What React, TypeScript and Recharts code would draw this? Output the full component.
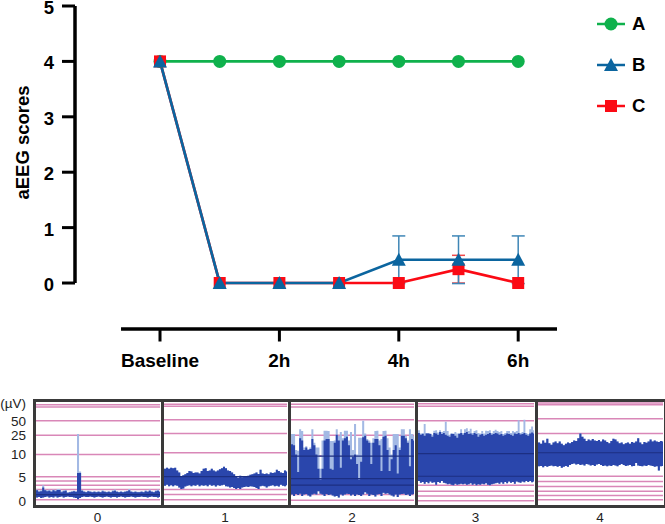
import { CartesianGrid, ComposedChart, Area, ErrorBar, Line, LineChart, ReferenceLine, XAxis, YAxis } from 'recharts';

const FONT = '"Liberation Sans", Arial, sans-serif';

// upper chart
const TIME_POINTS = [0, 1, 2, 3, 4, 5, 6];
const TIME_TICKS = [0, 2, 4, 6];
const TIME_LABELS = ['Baseline', '2h', '4h', '6h'];
const SCORE_TICKS = [0, 1, 2, 3, 4, 5];
const SCORES_A = [4, 4, 4, 4, 4, 4, 4];
const SCORES_B = [4, 0, 0, 0, 0.42, 0.42, 0.42];
const SCORES_C = [4, 0, 0, 0, 0, 0.25, 0];
const ERRORS_B = [null, null, null, null, 0.43, 0.43, 0.43];
const ERRORS_C = [null, null, null, null, null, 0.25, null];

const GREEN = '#0fb14c';
const BLUE = '#0b659f';
const RED = '#fb0a14';

const scoreRows = TIME_POINTS.map((t, i) => ({
  t,
  a: SCORES_A[i],
  b: SCORES_B[i],
  c: SCORES_C[i],
  errB: ERRORS_B[i],
  errC: ERRORS_C[i],
}));

// aEEG strips, amplitude in plotted levels (0-10 linear, log above)
const AMP_TICKS = [0, 5.1, 10, 14.1, 17.2, 21];
const AMP_LABELS = ['0', '5', '10', '25', '50', '(µV)'];

const GRID_0 = [0.4, 1.5, 2.6, 3.5, 4.4, 5.3, 10, 14.1, 17.2, 20.1, 20.6];
const GRID_1 = [0.4, 1.5, 2.6, 10.4, 14.5, 17.4, 20.3, 20.7];
const GRID_2 = [0.3, 1.5, 9.7, 14.1, 17.4, 20.1, 20.7];
const GRID_3 = [0.2, 1.2, 2.2, 3.5, 17.2, 20.3, 20.8];
const GRID_4 = [0.4, 1.3, 2.2, 3.2, 4.3, 5.4, 14.5, 17.6, 20.6, 21];

const MID_0 = [1.5];
const MID_1 = [5.3];
const MID_2 = [3.5, 4.9, 9.7];
const MID_3 = [5.4, 10.2];
const MID_4 = [10.4];

const HIGH_0 = [2.3, 2.4, 2.1, 2.2, 3, 2.4, 2.2, 2.3, 2.1, 2.4, 2.2, 2.5, 2.5, 2, 2.2, 2.3, 1.9, 2, 2.1, 2.2, 2.1, 6.1, 6.1, 2.3, 2.1, 2, 2.2, 2.1, 2, 2.1, 2, 2.1, 2, 2.2, 2.1, 2, 2.1, 2, 2.2, 2.3, 2.1, 2, 2.1, 2, 2.1, 2.2, 2.4, 2.1, 2, 2.1, 2, 2, 2.1, 2, 2.2, 2.1, 2.3, 2.1, 2, 2.2, 2.3, 2.1];
const TIP_0 = [2.6, 2.6, 2.3, 2.4, 3.5, 2.6, 2.4, 2.6, 2.3, 2.6, 2.4, 2.7, 2.7, 2.2, 2.4, 2.5, 2, 2.1, 2.2, 2.3, 2.2, 14.4, 6.4, 2.5, 2.2, 2.1, 2.3, 2.2, 2.1, 2.2, 2.1, 2.2, 2.1, 2.4, 2.2, 2.1, 2.2, 2.1, 2.4, 2.6, 2.2, 2.1, 2.2, 2.1, 2.2, 2.3, 2.7, 2.2, 2.1, 2.2, 2.1, 2.1, 2.2, 2.1, 2.4, 2.2, 2.6, 2.2, 2.1, 2.4, 2.6, 2.2];
const LOW_0 = [1.1, 0.9, 1, 0.8, 0.9, 1, 1.1, 0.9, 1, 0.9, 1.1, 0.9, 1, 1.1, 0.9, 1, 1.1, 1, 1, 0.9, 0.8, 0.5, 0.8, 1, 1.1, 1, 1, 1.1, 1, 0.9, 1, 1.1, 1, 0.9, 1, 1.1, 1, 0.9, 1, 1, 0.9, 1, 1.1, 1, 0.9, 1, 1, 1.1, 1, 0.9, 1, 1, 1.1, 1, 1, 0.9, 1, 1.1, 1, 1, 0.9, 1];

const HIGH_1 = [6.8, 7, 7.2, 7, 7.2, 7.1, 7.2, 6.6, 6.2, 5.4, 5.6, 5.8, 6.1, 6.5, 6.4, 6.1, 6.2, 6.2, 6, 6.5, 7, 7.1, 6.5, 6.6, 7, 6.6, 6.4, 6.6, 6.9, 7.1, 7.4, 7.1, 6.6, 6.5, 6.2, 5.8, 5.4, 5.1, 5.5, 5.2, 5.3, 5.4, 5.5, 5.7, 5.8, 6, 6.2, 5.9, 6.8, 6, 5.9, 6, 5.8, 6.2, 6.1, 6.2, 6.8, 6.5, 6.2, 6.1, 6.6, 6.4];
const LOW_1 = [3.6, 3.4, 3.6, 3.3, 3.5, 3.3, 3.5, 3.4, 3, 2.7, 2.8, 3.2, 3.4, 3.5, 3.3, 3.5, 3.4, 3.6, 3.3, 3.5, 3.4, 3.5, 3.3, 3.6, 3.4, 3.5, 3.2, 3.5, 3.4, 3.5, 3.6, 3.3, 3.2, 3, 3.1, 2.9, 2.7, 2.9, 2.7, 3, 3.1, 3.2, 3.1, 3.3, 3.2, 3.1, 2.9, 2.7, 3.3, 3.4, 3.3, 3, 3.3, 3.4, 3.5, 3.3, 3.4, 3.2, 3.6, 3.4, 3.3, 3.5];

const HIGH_2 = [12.2, 12.2, 12, 10, 6.3, 13.5, 13, 11, 11.5, 11, 11.2, 13.3, 12, 10, 7, 4.7, 7, 13, 13.3, 13.3, 7, 6.8, 12.5, 14.2, 13, 7.2, 13, 13.5, 13.8, 12, 9, 9.5, 10, 8, 4.7, 8.5, 13.7, 14, 13, 12.5, 8, 12.5, 13.3, 13.3, 12, 6.5, 13.8, 14, 11, 6.5, 9, 11, 12, 6, 11, 14, 14, 13.5, 12.5, 7.5, 13.3, 13];
const TIP_2 = [12.2, 14.4, 14.4, 11, 10.8, 15.4, 15, 11.5, 11.8, 11.2, 11.5, 15.4, 12.5, 11.5, 11.5, 7, 13, 15.1, 15.1, 15, 12.9, 12.9, 13, 15.4, 14, 14.8, 13.5, 15.1, 15.1, 13, 14.8, 11, 16.5, 10, 13.6, 13.6, 17.2, 14.5, 13.3, 13, 12.5, 13.5, 15, 15.1, 13, 13.3, 15, 15.1, 13.5, 11.5, 10, 14.4, 14.4, 14.4, 11.5, 15.4, 15.4, 14, 13, 15.4, 14.4, 14];
const LOW_2 = [1.6, 1.5, 1.2, 1.6, 1.4, 1.7, 1.2, 1.5, 1.6, 1.3, 1.1, 1.5, 1.7, 1.5, 2.2, 1.7, 1.5, 1.2, 1.6, 1.4, 1.5, 1.3, 1.1, 1.2, 0.9, 1.5, 1.3, 1.5, 1.7, 1.6, 1.3, 1.5, 1.2, 1.5, 1.4, 1.2, 1.5, 2, 1.7, 1.2, 1.5, 1.4, 1.1, 1.5, 1.6, 1.2, 1.9, 1.7, 1.8, 1.5, 1.3, 1.1, 1.5, 1, 1.5, 1.6, 1.7, 1.4, 1.5, 1.2, 1.5, 1.6];

const HIGH_3 = [14, 14.6, 14.2, 14.4, 14, 14.5, 14.5, 14.4, 13.8, 14.6, 14.5, 14.2, 14.8, 14.4, 14.6, 14.2, 14, 13.8, 14.4, 14.4, 14, 13.6, 14.4, 14.6, 14.2, 14.6, 14.8, 14.4, 14.5, 14.2, 14.6, 14.4, 13.8, 14.2, 14.4, 14, 14.2, 14.4, 14.6, 14.2, 14.4, 14.6, 14.5, 14.2, 14.4, 14, 14.2, 14.5, 14.4, 14.2, 14, 14.5, 14.4, 14.6, 14.3, 14.4, 14.6, 14.2, 14, 14.5, 14.7, 14.5];
const TIP_3 = [14.4, 15.2, 14.5, 14.6, 16.5, 14.6, 14.6, 14.5, 14.2, 15.1, 15.2, 14.7, 15.2, 14.8, 15, 17, 15, 14.2, 14.6, 14.5, 14.8, 14.5, 14.6, 15.4, 14.6, 15.4, 15.6, 15, 15.5, 14.6, 15, 15.2, 14.6, 14.5, 15, 14.5, 15.1, 15, 15.2, 14.6, 15, 15.3, 15, 14.8, 15, 14.4, 14.6, 15, 15, 14.6, 15, 14.8, 15, 17.3, 14.6, 14.8, 17.4, 14.6, 14.4, 15.4, 16, 15.2];
const LOW_3 = [4.3, 4.4, 4, 4.2, 3.8, 4.2, 3.9, 4.3, 4, 4.1, 3.6, 4.2, 4, 4.4, 4, 3.9, 3.7, 3.8, 3.6, 3.5, 3.8, 3.6, 3.7, 3.8, 3.7, 3.8, 3.6, 3.7, 3.9, 3.6, 3.8, 3.5, 3.7, 3.6, 3.8, 3.7, 3.9, 3.6, 3.5, 3.7, 3.8, 3.9, 4, 3.8, 4.1, 3.8, 4.2, 3.9, 4.3, 4, 4.2, 3.8, 4.3, 4.1, 4, 4.3, 4.1, 4.4, 4.2, 4.4, 4.1, 4.3];

const HIGH_4 = [12.2, 12.6, 12.3, 13, 12.5, 13.4, 12.4, 12.1, 12.6, 12.8, 12.4, 12.8, 12.3, 12, 12.3, 12.6, 12.4, 12.7, 13, 12.9, 13.5, 14.5, 13.8, 13.4, 12.9, 13.2, 13, 13.3, 13, 12.9, 13.1, 12.8, 13.2, 13, 12.7, 12.4, 12.9, 13.4, 13.2, 12.8, 12.4, 12.6, 12.2, 12.4, 12.6, 12.3, 12.7, 12.5, 12.8, 13.5, 12.6, 12.2, 12.7, 12.5, 12.8, 13.2, 12.8, 13, 12.8, 12.7, 12.9, 12.8];
const LOW_4 = [7.7, 7.5, 7.6, 7.3, 7.6, 7.4, 7.6, 7.7, 7.5, 7.6, 7.4, 7.6, 7.2, 7.4, 7.6, 7.4, 7.8, 8, 8.1, 7.9, 8, 7.8, 7.9, 7.7, 8, 7.9, 7.7, 7.8, 7.6, 7.9, 8, 7.8, 7.6, 7.7, 7.5, 7.7, 7.6, 7.8, 7.7, 7.5, 7.8, 8, 7.8, 7.6, 7.7, 7.8, 7.5, 7.6, 8.2, 7.7, 7.6, 7.5, 7.7, 7.6, 7.8, 7.7, 7.6, 7.4, 7.5, 6.6, 7.5, 7.6];

const STRIP_NAMES = ['0', '1', '2', '3', '4'];
const STRIP_GRIDS = [GRID_0, GRID_1, GRID_2, GRID_3, GRID_4];
const STRIP_MIDS = [MID_0, MID_1, MID_2, MID_3, MID_4];
const STRIP_HIGHS = [HIGH_0, HIGH_1, HIGH_2, HIGH_3, HIGH_4];
const STRIP_TIPS = [TIP_0, HIGH_1, TIP_2, TIP_3, HIGH_4];
const STRIP_LOWS = [LOW_0, LOW_1, LOW_2, LOW_3, LOW_4];

// [left, right] of every strip on the page
const STRIP_BOXES = [
  [35, 160],
  [163, 287],
  [290, 414],
  [417, 534],
  [537, 663],
];

const STRIP_TOP = 401;
const STRIP_HEIGHT = 103;
const STRIP_HEADROOM = 10; // room above the plot so the (µV) label is not cut

function CircleDot({ cx, cy }: any) {
  return <circle cx={cx} cy={cy} r={6.5} fill={GREEN} />;
}

function TriangleDot({ cx, cy }: any) {
  return <path d={`M${cx} ${cy - 7}L${cx + 7} ${cy + 6}L${cx - 7} ${cy + 6}Z`} fill={BLUE} />;
}

function SquareDot({ cx, cy }: any) {
  return <rect x={cx - 6} y={cy - 6} width={12} height={12} fill={RED} />;
}

function LegendRow({ name, color, Dot, top }: any) {
  return (
    <div style={{ position: 'absolute', left: 597, top, height: 24, width: 60 }}>
      <svg width={30} height={24} style={{ position: 'absolute', left: 0, top: 0 }}>
        <line x1={0} x2={28} y1={12} y2={12} stroke={color} strokeWidth={2.5} />
        <Dot cx={14} cy={12} />
      </svg>
      <span style={{ position: 'absolute', left: 35, top: 0, lineHeight: '24px', fontFamily: FONT, fontWeight: 700, fontSize: 18.5 }}>{name}</span>
    </div>
  );
}

function Strip({ index }: { index: number }) {
  const [left, right] = STRIP_BOXES[index];
  const high = STRIP_HIGHS[index];
  const tip = STRIP_TIPS[index];
  const low = STRIP_LOWS[index];
  const rows = high.map((h, i) => ({ i, body: [low[i], h], tip: [low[i], tip[i]] }));
  const first = index === 0;
  const axisSpace = first ? left : 0;
  return (
    <>
      <div style={{ position: 'absolute', left: first ? 0 : left, top: STRIP_TOP - STRIP_HEADROOM }}>
        <ComposedChart width={right - left + axisSpace} height={STRIP_HEADROOM + STRIP_HEIGHT + 20} data={rows} margin={{ top: STRIP_HEADROOM, right: 0, bottom: 0, left: 0 }}>
          <CartesianGrid vertical={false} horizontalValues={STRIP_GRIDS[index]} stroke="#d987b8" strokeWidth={1.5} />
          <XAxis
            type="number"
            dataKey="i"
            domain={[0, high.length - 1]}
            ticks={[(high.length - 1) / 2]}
            tickFormatter={() => STRIP_NAMES[index]}
            tickLine={false}
            axisLine={false}
            height={20}
            tickSize={0}
            tickMargin={8}
            tick={{ fill: '#222', fontSize: 13.5, fontFamily: FONT }}
          />
          <YAxis
            hide={!first}
            width={axisSpace}
            type="number"
            domain={[-0.5, 21.4]}
            allowDataOverflow
            ticks={AMP_TICKS}
            interval={0}
            tickFormatter={(v: number) => AMP_LABELS[AMP_TICKS.indexOf(v)]}
            tickLine={false}
            axisLine={false}
            tickSize={0}
            tickMargin={9}
            tick={{ fill: '#222', fontSize: 13.5, fontFamily: FONT }}
          />
          <Area dataKey="tip" type="step" fill="#a3b9e4" fillOpacity={1} stroke="none" dot={false} activeDot={false} isAnimationActive={false} />
          <Area dataKey="body" type="step" fill="#2a46ac" fillOpacity={1} stroke="none" dot={false} activeDot={false} isAnimationActive={false} />
          {STRIP_MIDS[index].map((m) => (
            <ReferenceLine key={m} y={m} stroke="#1c2f82" strokeWidth={1.2} />
          ))}
        </ComposedChart>
      </div>
      <div style={{ position: 'absolute', left: left - 2, top: STRIP_TOP - 2, width: right - left, height: STRIP_HEIGHT, border: '3px solid #3a3a3a', boxSizing: 'content-box', pointerEvents: 'none' }} />
    </>
  );
}

export default function App() {
  const tickStyle = { fill: '#000', fontSize: 18.5, fontWeight: 700, fontFamily: FONT };
  return (
    <div style={{ position: 'absolute', left: 0, top: 0, width: 665, height: 524, background: '#fff', overflow: 'hidden' }}>
      <LineChart width={665} height={400} data={scoreRows} margin={{ top: 6, right: 108, bottom: 0, left: 0 }}>
        <XAxis
          type="number"
          dataKey="t"
          domain={[-1.424, 6.65]}
          allowDataOverflow
          ticks={TIME_TICKS}
          tickFormatter={(v: number) => TIME_LABELS[TIME_TICKS.indexOf(v)]}
          axisLine={false}
          tickLine={{ stroke: '#000', strokeWidth: 3 }}
          tickSize={12.5}
          tickMargin={12}
          height={71}
          tick={{ ...tickStyle, fontSize: 19 }}
          interval={0}
        />
        <YAxis
          type="number"
          width={75}
          domain={[-0.83, 5]}
          allowDataOverflow
          ticks={SCORE_TICKS}
          interval={0}
          axisLine={false}
          tickLine={{ stroke: '#000', strokeWidth: 3 }}
          tickSize={13}
          tickMargin={8}
          tick={{ ...tickStyle, dy: 1.5 }}
          label={{ value: 'aEEG scores', angle: -90, position: 'insideLeft', dx: 17, dy: -25, style: { ...tickStyle, textAnchor: 'middle' } }}
        />
        <ReferenceLine segment={[{ x: -1.424, y: 0 }, { x: -1.424, y: 5 }]} stroke="#000" strokeWidth={3.5} />
        <ReferenceLine segment={[{ x: -0.653, y: -0.83 }, { x: 6.65, y: -0.83 }]} stroke="#000" strokeWidth={3.5} />
        <Line dataKey="a" stroke={GREEN} strokeWidth={2.7} dot={<CircleDot />} activeDot={false} isAnimationActive={false} />
        <Line dataKey="c" stroke={RED} strokeWidth={2.7} dot={<SquareDot />} activeDot={false} isAnimationActive={false}>
          <ErrorBar dataKey="errC" direction="y" width={6.5} stroke="#f04a4a" strokeWidth={1.5} isAnimationActive={false} />
        </Line>
        <Line dataKey="b" stroke={BLUE} strokeWidth={2.7} dot={<TriangleDot />} activeDot={false} isAnimationActive={false}>
          <ErrorBar dataKey="errB" direction="y" width={6.5} stroke="#3f86b6" strokeWidth={1.5} isAnimationActive={false} />
        </Line>
      </LineChart>
      <LegendRow name="A" color={GREEN} Dot={CircleDot} top={12} />
      <LegendRow name="B" color={BLUE} Dot={TriangleDot} top={53} />
      <LegendRow name="C" color={RED} Dot={SquareDot} top={94} />
      {STRIP_NAMES.map((name, i) => (
        <Strip key={name} index={i} />
      ))}
    </div>
  );
}
